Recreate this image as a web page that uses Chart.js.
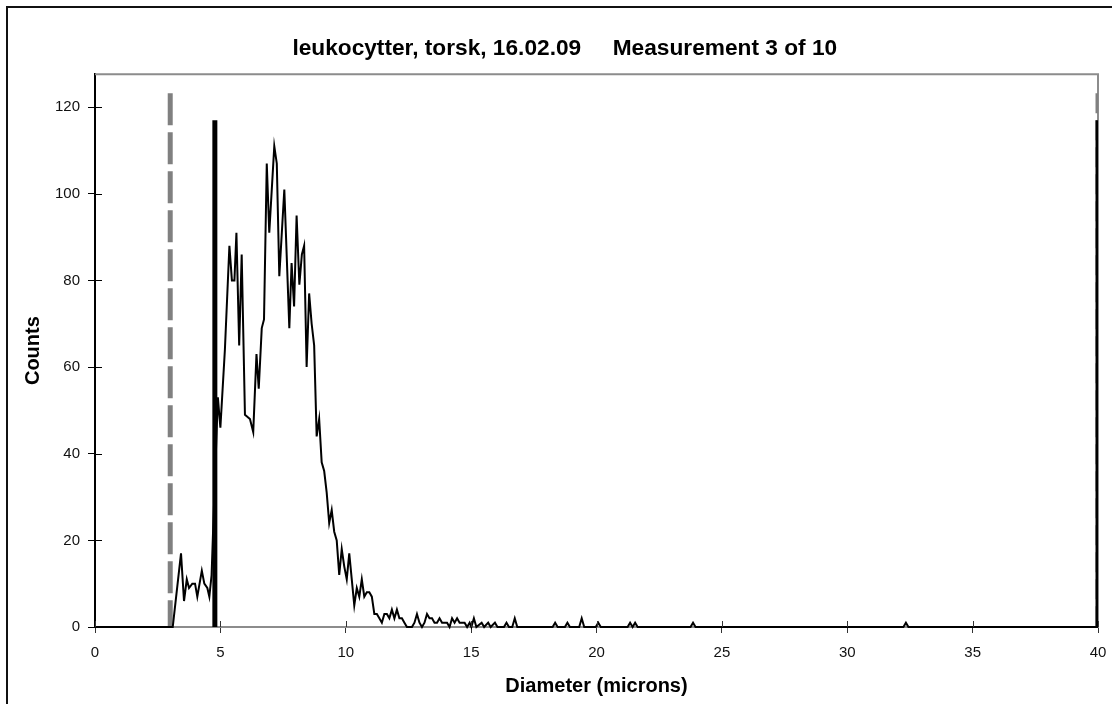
<!DOCTYPE html>
<html>
<head>
<meta charset="utf-8">
<title>leukocytter, torsk</title>
<script src="https://cdn.jsdelivr.net/npm/chart.js@4/dist/chart.umd.min.js"></script>
<style>
    html, body { margin: 0; padding: 0; background: #fff; }
    #wrap { position: relative; width: 1112px; height: 704px; }
    #frame {
        position: absolute; left: 6px; top: 6px; right: -10px; bottom: -10px;
        border-left: 2px solid #111; border-top: 2px solid #111;
        pointer-events: none;
    }
</style>
</head>
<body>
<div id="wrap">
    <canvas id="sizeChart" width="1112" height="704"></canvas>
    <div id="frame"></div>
</div>
<script>
// Size distribution (diameter in microns, counts)
const diameters = [
    0, 3.1, 3.43, 3.55, 3.66, 3.75, 3.88, 3.99, 4.08, 4.26, 4.36, 4.48, 4.56, 4.65, 4.72,
    4.9, 5.0, 5.18, 5.36, 5.46, 5.56, 5.64, 5.75, 5.85, 5.98, 6.18, 6.31, 6.44, 6.53, 6.65,
    6.74, 6.85, 6.95, 7.15, 7.25, 7.35, 7.55, 7.75, 7.84, 7.94, 8.04, 8.15, 8.25, 8.34, 8.44,
    8.54, 8.64, 8.74, 8.84, 8.94, 9.04, 9.14, 9.24, 9.34, 9.44, 9.54, 9.64, 9.74, 9.84, 9.94,
    10.04, 10.14, 10.24, 10.34, 10.44, 10.54, 10.64, 10.74, 10.84, 10.94, 11.04, 11.14, 11.24,
    11.34, 11.44, 11.54, 11.64, 11.74, 11.84, 11.94, 12.04, 12.14, 12.24, 12.34, 12.44, 12.64,
    12.74, 12.84, 12.94, 13.04, 13.14, 13.24, 13.34, 13.44, 13.54, 13.64, 13.74, 13.84, 13.94,
    14.04, 14.14, 14.24, 14.34, 14.44, 14.54, 14.64, 14.74, 14.84, 14.94, 15.01, 15.11, 15.21,
    15.42, 15.52, 15.68, 15.78, 15.95, 16.05, 16.31, 16.41, 16.51, 16.64, 16.74, 16.84,
    18.25, 18.35, 18.45, 18.74, 18.84, 18.94, 19.31, 19.41, 19.51, 19.97, 20.07, 20.17,
    21.24, 21.34, 21.44, 21.54, 21.64, 23.75, 23.85, 23.95, 32.24, 32.34, 32.44, 40
];
const counts = [
    0, 0, 17, 6, 11, 9, 10, 10, 7, 13, 10, 9, 7, 12, 24,
    53, 46, 64, 88, 80, 80, 91, 65, 86, 49, 48, 45, 63, 55, 69,
    71, 107, 91, 111, 107, 81, 101, 69, 84, 74, 95, 79, 86, 88, 60,
    77, 70, 65, 44, 48, 38, 36, 31, 24, 27, 22, 20, 12, 18, 14,
    11, 17, 11, 5, 9, 7, 11, 7, 8, 8, 7, 3, 3,
    2, 1, 3, 3, 2, 4, 2, 4, 2, 2, 1, 0, 0,
    1, 3, 1, 0, 1, 3, 2, 2, 1, 1, 2, 1, 1,
    1, 0, 2, 1, 2, 1, 1, 1, 0, 1, 0, 2, 0,
    1, 0, 1, 0, 1, 0, 0, 1, 0, 0, 2, 0,
    0, 1, 0, 0, 1, 0, 0, 2, 0, 0, 1, 0,
    0, 1, 0, 1, 0, 0, 1, 0, 0, 1, 0, 0
];

// Gate markers: grey dashed = lower/upper limit, black = counting window
const lowerGate = 3.0;
const windowStart = 4.78;
const upperGate = 40;
const gateTop = 123.2;
const windowTop = 117;

const xTicks = [0, 5, 10, 15, 20, 25, 30, 35, 40];
const yTicks = [0, 20, 40, 60, 80, 100, 120];

const textFont = '"Liberation Sans", Arial, sans-serif';

function pts(xs, ys) {
    return xs.map((x, i) => ({ x: x, y: ys[i] }));
}

function vline(x, top) {
    return [{ x: x, y: top }, { x: x, y: 0 }];
}

// plot frame (grey) and the inner half of the crossing tick marks
const plotFrame = {
    id: 'plotFrame',
    beforeDatasetsDraw(chart) {
        const { ctx, chartArea: a } = chart;
        ctx.save();
        ctx.strokeStyle = '#8c8c8c';
        ctx.lineWidth = 2;
        ctx.beginPath();
        ctx.moveTo(a.left, a.top);
        ctx.lineTo(a.right, a.top);
        ctx.lineTo(a.right, a.bottom);
        ctx.stroke();
        ctx.restore();
    },
    afterDraw(chart) {
        const { ctx, chartArea: a, scales } = chart;
        ctx.save();
        ctx.lineWidth = 1;
        ctx.strokeStyle = '#000';
        ctx.beginPath();
        yTicks.forEach(v => {
            const y = Math.round(scales.y.getPixelForValue(v)) + 0.5;
            ctx.moveTo(a.left, y);
            ctx.lineTo(a.left + 7, y);
        });
        ctx.stroke();
        ctx.strokeStyle = '#333';
        ctx.beginPath();
        xTicks.forEach(v => {
            const x = Math.round(scales.x.getPixelForValue(v)) + 0.5;
            ctx.moveTo(x, a.bottom);
            ctx.lineTo(x, a.bottom - 6);
        });
        ctx.stroke();
        ctx.restore();
    }
};

new Chart(document.getElementById('sizeChart'), {
    type: 'line',
    data: {
        datasets: [{
            label: 'Counts',
            data: pts(diameters, counts),
            borderColor: '#000',
            borderWidth: 2,
            pointRadius: 0,
            tension: 0,
            clip: false
        }, {
            label: 'window start',
            data: vline(windowStart, windowTop),
            borderColor: '#000',
            borderWidth: 5,
            pointRadius: 0
        }, {
            label: 'window end',
            data: vline(upperGate, windowTop),
            borderColor: '#000',
            borderWidth: 5,
            pointRadius: 0
        }, {
            label: 'lower gate',
            data: vline(lowerGate, gateTop),
            borderColor: '#808080',
            borderWidth: 5,
            borderDash: [32, 7],
            borderCapStyle: 'butt',
            pointRadius: 0
        }, {
            label: 'upper gate',
            data: vline(upperGate, gateTop),
            borderColor: '#808080',
            borderWidth: 5,
            borderDash: [20, 7],
            pointRadius: 0
        }]
    },
    options: {
        responsive: false,
        animation: false,
        events: [],
        layout: { padding: { left: 0, right: 14, top: 0, bottom: 0 } },
        plugins: {
            legend: { display: false },
            tooltip: { enabled: false },
            title: {
                display: true,
                text: '\u00a0\u00a0\u00a0\u00a0\u00a0leukocytter, torsk, 16.02.09\u00a0\u00a0\u00a0\u00a0\u00a0Measurement 3 of 10',
                color: '#000',
                font: { family: textFont, size: 22.7, weight: 'bold' },
                padding: { top: 35, bottom: 12 }
            }
        },
        scales: {
            x: {
                type: 'linear',
                min: 0,
                max: 40,
                afterBuildTicks: s => { s.ticks = xTicks.map(v => ({ value: v })); },
                afterFit: s => {
                    s.height = 77;
                    s.paddingLeft = 0;
                    s.paddingRight = 0;
                },
                border: { display: true, color: '#8c8c8c', width: 2 },
                grid: { drawOnChartArea: false, drawTicks: true, tickLength: 6, color: '#333' },
                ticks: {
                    color: '#111',
                    padding: 11,
                    maxRotation: 0,
                    font: { family: textFont, size: 15 }
                },
                title: {
                    display: true,
                    text: 'Diameter (microns)',
                    color: '#000',
                    font: { family: textFont, size: 20, weight: 'bold' },
                    padding: { top: 0, bottom: 6 }
                }
            },
            y: {
                type: 'linear',
                min: 0,
                max: 127.6,
                afterBuildTicks: s => { s.ticks = yTicks.map(v => ({ value: v })); },
                afterFit: s => { s.width = 95; },
                border: { display: true, color: '#000', width: 2 },
                grid: { drawOnChartArea: false, drawTicks: true, tickLength: 7, color: '#000' },
                ticks: {
                    color: '#111',
                    padding: 8,
                    font: { family: textFont, size: 15 }
                },
                title: {
                    display: true,
                    text: 'Counts',
                    color: '#000',
                    font: { family: textFont, size: 20, weight: 'bold' },
                    padding: { top: 21, bottom: 0 }
                }
            }
        }
    },
    plugins: [plotFrame]
});
</script>
</body>
</html>
